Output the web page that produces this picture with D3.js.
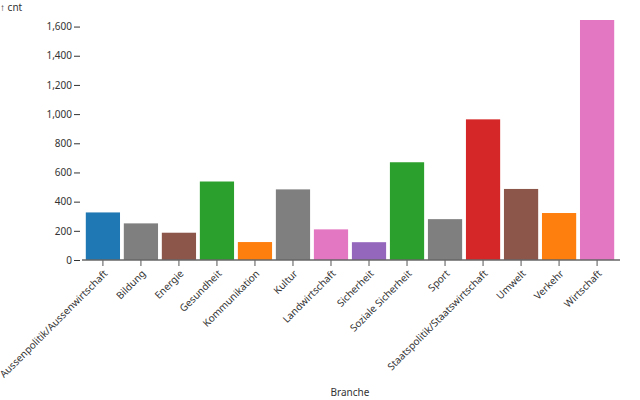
<!DOCTYPE html>
<html><head><meta charset="utf-8">
<script src="https://cdn.jsdelivr.net/npm/d3@7"></script>
<style>body{margin:0;background:#fff}svg{font-family:"Noto Sans","Open Sans",sans-serif}</style>
</head><body><svg id="c" width="640" height="400"></svg>
<script>
const categories = ["Aussenpolitik/Aussenwirtschaft","Bildung","Energie","Gesundheit","Kommunikation","Kultur","Landwirtschaft","Sicherheit","Soziale Sicherheit","Sport","Staatspolitik/Staatswirtschaft","Umwelt","Verkehr","Wirtschaft"];
const values = [326, 251, 187, 538, 123, 484, 210, 122, 670, 280, 964, 487, 322, 1645];
const colors = ["#1f77b4","#7f7f7f","#8c564b","#2ca02c","#ff7f0e","#7f7f7f","#e377c2","#9467bd","#2ca02c","#7f7f7f","#d62728","#8c564b","#ff7f0e","#e377c2"];
const yTicks = [0,200,400,600,800,1000,1200,1400,1600];

const svg = d3.select("#c");
const x = d3.scaleBand().domain(categories).range([82, 618]).padding(0.1);
const y = d3.scaleLinear().domain([0, d3.max(values)]).range([260, 20]);
const data = categories.map((c,i)=>({c, v: values[i], col: colors[i]}));

svg.append("g").selectAll("rect").data(data).join("rect")
  .attr("x", d=>x(d.c)).attr("width", x.bandwidth())
  .attr("y", d=>y(d.v)).attr("height", d=>y(0)-y(d.v))
  .attr("fill", d=>d.col);

// y axis
const ya = svg.append("g").attr("transform","translate(80,0)")
  .call(d3.axisLeft(y).tickValues(yTicks).tickSize(6).tickPadding(2).tickFormat(d3.format(",")));
ya.select(".domain").remove();
ya.selectAll(".tick line").attr("stroke","#333");
ya.selectAll("text").attr("font-size",10).attr("fill","#333").attr("font-family","Noto Sans, Open Sans, sans-serif");

// x axis
const xa = svg.append("g").attr("transform","translate(0,260)")
  .call(d3.axisBottom(x).tickSize(6).tickSizeOuter(0));
xa.select(".domain").remove();
xa.selectAll(".tick line").attr("stroke","#555");
xa.selectAll("text").attr("font-size",10).attr("fill","#333")
  .attr("font-family","Noto Sans, Open Sans, sans-serif")
  .attr("text-anchor","end").attr("dy","0.32em")
  .attr("transform","translate(3,12) rotate(-45)").attr("y",0);

// zero rule
svg.append("line").attr("x1",82).attr("x2",620).attr("y1",y(0)).attr("y2",y(0))
  .attr("stroke","#666").attr("stroke-width",1.5);

svg.append("text").attr("x",0).attr("y",11).attr("font-size",10).attr("fill","#333").text("↑ cnt");
svg.append("text").attr("x",350).attr("y",396).attr("font-size",10).attr("fill","#333")
  .attr("text-anchor","middle").text("Branche");
</script></body></html>
